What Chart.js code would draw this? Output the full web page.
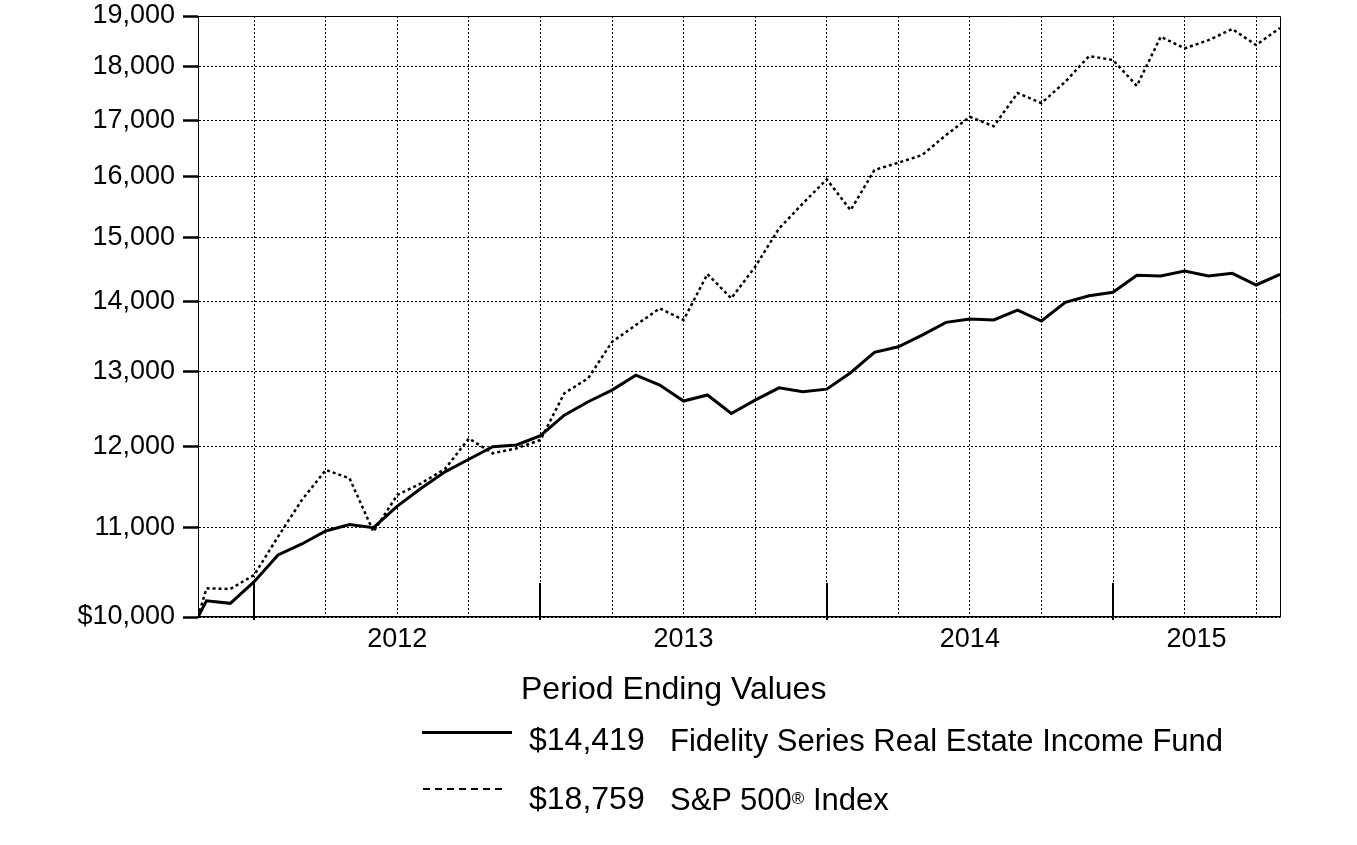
<!DOCTYPE html>
<html><head><meta charset="utf-8">
<script src="https://cdn.jsdelivr.net/npm/chart.js@4/dist/chart.umd.min.js"></script>
<style>
html,body{margin:0;padding:0;background:#fff;}
#wrap{position:relative;width:1357px;height:845px;overflow:hidden;}
canvas{position:absolute;left:0;top:0;}
.t{position:absolute;font-family:'Liberation Sans',Arial,sans-serif;font-size:31px;line-height:31px;color:#000;white-space:nowrap;}
.v{font-size:32px;}
.reg{font-size:17px;position:relative;top:-6px;}
</style></head><body>
<div id="wrap">
<canvas id="c" width="1357" height="845"></canvas>
<div class="t" style="left:521px;top:672px;font-size:32px;line-height:32px">Period Ending Values</div>
<div style="position:absolute;left:422px;top:731px;width:90px;height:3px;background:#000"></div>
<div class="t v" id="v1" style="left:529px;top:724px"></div>
<div class="t" id="n1" style="left:670px;top:725px"></div>
<div style="position:absolute;left:423px;top:788px;width:84px;height:2px;background:repeating-linear-gradient(to right,#000 0 7px,transparent 7px 12px)"></div>
<div class="t v" id="v2" style="left:529px;top:783px"></div>
<div class="t" id="n2" style="left:670px;top:784px"></div>
</div>
<script>
const periodDates = [
 '2011-10-20','2011-10-31','2011-11-30','2011-12-31',
 '2012-01-31','2012-02-29','2012-03-31','2012-04-30','2012-05-31','2012-06-30','2012-07-31','2012-08-31','2012-09-30','2012-10-31','2012-11-30','2012-12-31',
 '2013-01-31','2013-02-28','2013-03-31','2013-04-30','2013-05-31','2013-06-30','2013-07-31','2013-08-31','2013-09-30','2013-10-31','2013-11-30','2013-12-31',
 '2014-01-31','2014-02-28','2014-03-31','2014-04-30','2014-05-31','2014-06-30','2014-07-31','2014-08-31','2014-09-30','2014-10-31','2014-11-30','2014-12-31',
 '2015-01-31','2015-02-28','2015-03-31','2015-04-30','2015-05-31','2015-06-30','2015-07-31'
];
const fundValues = [
 10000, 10175, 10147, 10384,
 10685, 10811, 10962, 11038, 11001, 11258, 11474, 11677, 11835, 11995, 12017, 12136,
 12406, 12585, 12742, 12947, 12810, 12594, 12676, 12427, 12606, 12773, 12719, 12755,
 12981, 13266, 13345, 13512, 13698, 13746, 13733, 13879, 13718, 13995, 14093, 14146,
 14405, 14395, 14471, 14395, 14435, 14256, 14419
];
const spValues = [
 10000, 10311, 10304, 10459,
 10896, 11331, 11700, 11596, 10953, 11392, 11535, 11713, 12100, 11910, 11974, 12081,
 12699, 12904, 13416, 13659, 13904, 13733, 14424, 14053, 14537, 15142, 15553, 15959,
 15441, 16118, 16244, 16378, 16731, 17061, 16890, 17500, 17311, 17712, 18205, 18127,
 17634, 18584, 18354, 18516, 18736, 18419, 18759
];
const seriesNames = ['Fidelity Series Real Estate Income Fund', 'S&P 500\u00AE Index'];
const yTickValues = [10000, 11000, 12000, 13000, 14000, 15000, 16000, 17000, 18000, 19000];
const yTickLabels = ['$10,000', '11,000', '12,000', '13,000', '14,000', '15,000', '16,000', '17,000', '18,000', '19,000'];
const yearLabels = ['2012', '2013', '2014', '2015'];

function monthOffset(s) {
  const [y, m, d] = s.split('-').map(Number);
  const dim = new Date(y, m, 0).getDate();
  return (y - 2011) * 12 + (m - 12) - (dim - d) / dim;
}
const xMin = monthOffset(periodDates[0]);
const xMax = monthOffset(periodDates[periodDates.length - 1]);

const yearBoundaries = yearLabels.map(y => monthOffset((Number(y) - 1) + '-12-31'));
const labelPos = {};
yearLabels.forEach(y => {
  const s = Math.max(xMin, monthOffset((Number(y) - 1) + '-12-31'));
  const e = Math.min(xMax, monthOffset(y + '-12-31'));
  labelPos[(s + e) / 2] = y;
});
const gridSet = new Set();
for (let v = 0; v <= xMax; v += 3) gridSet.add(v);
const xTicks = Array.from(new Set([...gridSet, ...Object.keys(labelPos).map(Number)])).sort((a, b) => a - b);

const fmt = v => '$' + v.toLocaleString('en-US');
document.getElementById('v1').textContent = fmt(fundValues[fundValues.length - 1]);
document.getElementById('v2').textContent = fmt(spValues[spValues.length - 1]);
document.getElementById('n1').textContent = seriesNames[0];
const parts = seriesNames[1].split('\u00AE');
document.getElementById('n2').innerHTML = parts[0] + '<span class="reg">\u00AE</span>' + parts[1];

const framePlugin = {
  id: 'frame',
  afterDatasetsDraw(chart) {
    const {ctx, chartArea: a, scales: {x}} = chart;
    ctx.save();
    ctx.strokeStyle = '#000';
    ctx.lineWidth = 1;
    ctx.beginPath();
    ctx.moveTo(a.left, Math.round(a.top) + 0.5);
    ctx.lineTo(Math.round(a.right) + 0.5, Math.round(a.top) + 0.5);
    ctx.lineTo(Math.round(a.right) + 0.5, a.bottom);
    ctx.stroke();
    ctx.lineWidth = 2;
    yearBoundaries.forEach(v => {
      const px = Math.round(x.getPixelForValue(v));
      ctx.beginPath();
      ctx.moveTo(px, a.bottom - 34);
      ctx.lineTo(px, a.bottom + 3);
      ctx.stroke();
    });
    ctx.restore();
  }
};

const font = 'Liberation Sans, Arial, sans-serif';
new Chart(document.getElementById('c'), {
  type: 'line',
  data: {
    datasets: [
      {
        label: seriesNames[0],
        data: periodDates.map((d, i) => ({x: monthOffset(d), y: fundValues[i]})),
        borderColor: '#000', borderWidth: 3, pointRadius: 0, tension: 0, fill: false
      },
      {
        label: seriesNames[1],
        data: periodDates.map((d, i) => ({x: monthOffset(d), y: spValues[i]})),
        borderColor: '#000', borderWidth: 2.5, borderDash: [3, 3], pointRadius: 0, tension: 0, fill: false
      }
    ]
  },
  options: {
    responsive: false,
    animation: false,
    devicePixelRatio: 1,
    layout: {padding: {top: 16, right: 77, left: 0, bottom: 0}},
    plugins: {legend: {display: false}, tooltip: {enabled: false}},
    scales: {
      x: {
        type: 'linear', min: xMin, max: xMax,
        afterBuildTicks: s => { s.ticks = xTicks.map(v => ({value: v})); },
        afterFit: s => { s.height = 228; s.paddingLeft = 0; s.paddingRight = 0; },
        ticks: {
          callback: v => labelPos[v] || '',
          font: {family: font, size: 27}, color: '#000', padding: 6,
          autoSkip: false, maxRotation: 0, minRotation: 0
        },
        grid: {
          color: c => (c.tick && gridSet.has(c.tick.value)) ? '#000' : 'rgba(0,0,0,0)',
          lineWidth: 1, drawTicks: false
        },
        border: {display: true, color: '#000', width: 1.5, dash: [2, 2]}
      },
      y: {
        type: 'logarithmic', min: yTickValues[0], max: yTickValues[yTickValues.length - 1],
        afterBuildTicks: s => { s.ticks = yTickValues.map(v => ({value: v})); },
        afterFit: s => { s.width = 198; s.paddingTop = 0; s.paddingBottom = 0; },
        ticks: {
          callback: v => yTickLabels[yTickValues.indexOf(v)],
          font: {family: font, size: 27}, color: '#000', padding: 8, autoSkip: false
        },
        grid: {color: '#000', lineWidth: 1, drawTicks: true, tickLength: 15, tickWidth: 2.5, tickColor: '#000'},
        border: {display: true, color: '#000', width: 1, dash: [2, 2]}
      }
    }
  },
  plugins: [framePlugin]
});
</script>
</body></html>
